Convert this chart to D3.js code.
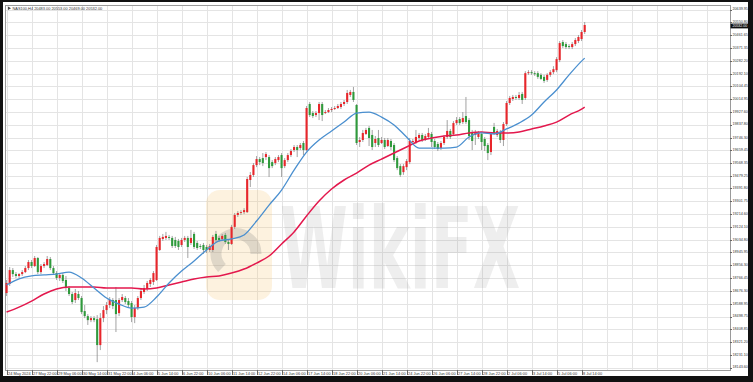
<!DOCTYPE html>
<html><head><meta charset="utf-8">
<script src="https://cdn.jsdelivr.net/npm/d3@7/dist/d3.min.js"></script>
<style>html,body{margin:0;padding:0;background:#fff}svg{display:block}</style>
</head><body><svg id="c" width="753" height="382"></svg>
<script>
const symbol = "NAS100,H4";
const timeLabels = ["24 May 2024","27 May 22:00","29 May 06:00","30 May 14:00","31 May 22:00","4 Jun 06:00","5 Jun 14:00","6 Jun 22:00","10 Jun 06:00","11 Jun 14:00","12 Jun 22:00","14 Jun 06:00","17 Jun 14:00","18 Jun 22:00","20 Jun 06:00","21 Jun 14:00","24 Jun 22:00","26 Jun 06:00","27 Jun 14:00","28 Jun 22:00","2 Jul 06:00","3 Jul 14:00","5 Jul 06:00","8 Jul 14:00"];
const priceLabels = ["20639.95","20550.80","20461.65","20371.35","20282.20","20192.10","20104.45","20014.95","19927.60","19837.80","19746.30","19659.45","19568.35","19479.25","19391.80","19301.75","19214.60","19124.10","19034.80","18945.95","18856.30","18766.45","18676.30","18588.95","18498.75","18408.85","18321.20","18231.10","18143.60"];

const open = [18663,18726,18823,18795,18782,18795,18809,18837,18879,18851,18907,18809,18851,18858,18900,18837,18802,18768,18789,18754,18698,18656,18614,18656,18628,18537,18502,18474,18488,18481,18300,18488,18544,18579,18614,18614,18523,18614,18628,18607,18593,18495,18558,18628,18670,18691,18726,18740,18754,18963,19040,19047,19054,19047,19033,19026,18998,19033,19047,19012,19075,19012,18991,18998,18984,18963,18963,19075,19047,19040,19068,19019,19005,19124,19207,19221,19227,19227,19451,19486,19555,19597,19604,19611,19611,19576,19569,19590,19625,19548,19590,19625,19660,19681,19674,19709,19660,19981,19918,19904,19918,19981,19918,19925,19939,19946,19953,19960,19981,19995,20044,20065,19974,19716,19730,19772,19814,19765,19709,19744,19709,19730,19688,19723,19695,19604,19548,19506,19541,19576,19716,19716,19744,19765,19737,19751,19772,19723,19702,19674,19709,19751,19793,19772,19848,19876,19855,19897,19869,19786,19765,19751,19772,19737,19695,19646,19821,19765,19786,19730,19841,19988,20016,20030,20023,20051,20023,20196,20203,20196,20196,20184,20170,20149,20184,20203,20217,20287,20413,20399,20385,20378,20399,20420,20434,20483];
const high = [18754,18844,18837,18809,18802,18823,18851,18893,18893,18921,18914,18865,18879,18921,18914,18851,18816,18802,18802,18782,18712,18670,18691,18677,18642,18579,18516,18502,18502,18509,18523,18572,18600,18635,18628,18705,18628,18656,18642,18628,18607,18579,18642,18691,18719,18747,18768,18816,18998,19061,19075,19089,19068,19061,19054,19040,19047,19061,19061,19103,19089,19026,19005,19012,18998,19005,19068,19096,19061,19075,19082,19033,19138,19221,19234,19241,19255,19472,19507,19569,19618,19611,19639,19646,19625,19590,19611,19625,19639,19604,19639,19667,19695,19695,19709,19723,19967,19995,19932,19932,19995,19995,19939,19953,19960,19967,19981,19995,20009,20079,20079,20100,19981,19751,19800,19814,19828,19800,19758,19800,19751,19744,19744,19737,19709,19618,19562,19562,19597,19744,19737,19800,19779,19779,19772,19814,19786,19737,19716,19723,19765,19869,19807,19862,19890,19890,19925,20030,19883,19800,19800,19793,19786,19751,19709,19786,19849,19807,19800,19855,20002,20037,20044,20044,20065,20065,20210,20217,20217,20210,20210,20196,20184,20196,20217,20245,20308,20420,20427,20413,20399,20413,20441,20462,20497,20553];
const low = [18642,18712,18775,18768,18768,18782,18802,18823,18837,18844,18795,18795,18837,18851,18823,18789,18754,18747,18733,18677,18642,18586,18593,18614,18516,18488,18440,18460,18460,18181,18265,18460,18516,18558,18551,18391,18502,18600,18586,18565,18460,18453,18544,18614,18656,18677,18705,18719,18747,18956,19026,19033,19033,18977,18977,18963,18984,19019,18907,18998,18970,18963,18970,18935,18942,18949,18949,19019,19019,19026,19005,18963,18998,19110,19193,19207,19213,19221,19402,19472,19541,19555,19548,19590,19472,19534,19555,19576,19472,19534,19576,19611,19646,19611,19660,19625,19653,19890,19883,19890,19869,19862,19911,19918,19925,19939,19946,19946,19967,19981,20030,19995,19695,19681,19716,19765,19688,19660,19681,19681,19702,19667,19681,19660,19576,19520,19473,19487,19520,19562,19695,19702,19730,19716,19723,19737,19681,19667,19653,19660,19695,19737,19737,19758,19835,19835,19841,19841,19730,19660,19695,19737,19660,19653,19590,19625,19765,19751,19709,19688,19828,19974,20002,20009,20009,19981,20009,20184,20184,20177,20156,20149,20128,20135,20170,20189,20203,20273,20371,20364,20364,20364,20385,20406,20420,20469];
const close = [18733,18823,18795,18782,18795,18809,18837,18879,18851,18907,18809,18851,18865,18900,18837,18802,18768,18789,18747,18698,18656,18600,18663,18628,18530,18502,18474,18488,18474,18300,18488,18544,18579,18614,18572,18516,18614,18635,18600,18579,18495,18558,18628,18677,18698,18733,18754,18802,18984,19047,19054,19061,19047,18991,18991,18984,19033,19047,18984,19047,18984,18977,18984,18963,18963,18991,19054,19033,19033,19061,19019,19005,19124,19207,19221,19227,19241,19458,19486,19555,19597,19576,19569,19632,19534,19548,19597,19611,19534,19590,19625,19653,19681,19660,19695,19660,19953,19904,19897,19918,19981,19904,19925,19939,19946,19953,19967,19981,19995,20058,20065,20009,19709,19730,19779,19800,19744,19681,19737,19695,19730,19681,19730,19681,19590,19534,19487,19548,19583,19723,19723,19751,19765,19730,19758,19779,19716,19681,19667,19709,19751,19793,19751,19848,19869,19848,19883,19855,19758,19723,19786,19779,19716,19688,19639,19772,19779,19793,19730,19841,19988,20023,20030,20023,20044,20009,20196,20203,20196,20189,20170,20156,20142,20184,20203,20224,20294,20406,20385,20378,20378,20399,20427,20448,20483,20532];

const maBars = [0,4,8,12,16,20,24,28,32,36,40,44,48,52,56,60,64,68,72,76,80,84,88,92,96,100,104,108,112,116,120,124,128,132,136,140,144,148,152,156,160,164,168,172,176,180,184,185];
const maFast = [18719,18761,18782,18789,18795,18809,18768,18698,18628,18586,18558,18565,18635,18733,18816,18886,18963,19026,19040,19068,19165,19276,19381,19520,19646,19730,19793,19855,19918,19925,19890,19835,19751,19674,19674,19674,19681,19751,19779,19772,19807,19848,19904,19995,20079,20184,20280,20301];
const maSlow = [18530,18565,18607,18656,18691,18705,18705,18705,18698,18698,18698,18691,18698,18719,18740,18761,18775,18782,18802,18830,18872,18921,19005,19089,19200,19304,19388,19451,19499,19555,19597,19639,19681,19723,19744,19758,19765,19779,19786,19779,19779,19786,19807,19828,19855,19904,19946,19960];

const W = 753, H = 382;
const plot = {l:5, t:5, r:730, b:370};
const svg = d3.select("#c");
const fontFam = "'Liberation Sans', Arial, sans-serif";

// outer frame
svg.append("rect").attr("x",0).attr("y",0).attr("width",W).attr("height",H).attr("fill","#111");
svg.append("rect").attr("x",3).attr("y",2).attr("width",745).attr("height",374).attr("fill","#fff");

const x = d3.scaleLinear().domain([-0.5, 231.5]).range([plot.l, plot.r]);
const priceVals = priceLabels.map(Number);
const y = d3.scaleLinear().domain([d3.min(priceVals), d3.max(priceVals)]).range([367.5, 9.5]);

// grid
const gGrid = svg.append("g");
const gridIdx = d3.range(0, 232, 8);
gGrid.selectAll("line.v").data(gridIdx).join("line")
  .attr("x1", d => Math.round(x(d))+0.5).attr("x2", d => Math.round(x(d))+0.5)
  .attr("y1", plot.t).attr("y2", plot.b)
  .attr("stroke","#e4e4e4").attr("stroke-width",1);
gGrid.selectAll("line.h").data(priceVals).join("line")
  .attr("x1", plot.l).attr("x2", plot.r)
  .attr("y1", d => Math.round(y(d))+0.5).attr("y2", d => Math.round(y(d))+0.5)
  .attr("stroke","#e4e4e4").attr("stroke-width",1);

// plot border
svg.append("rect").attr("x",plot.l+0.5).attr("y",plot.t+0.5)
  .attr("width",plot.r-plot.l).attr("height",plot.b-plot.t)
  .attr("fill","none").attr("stroke","#9a9a9a").attr("stroke-width",1);

// watermark (behind data)
const wm = svg.append("g");
wm.append("rect").attr("x",206).attr("y",190).attr("width",66).attr("height",110).attr("rx",14)
  .attr("fill","rgba(246,196,110,0.22)");
wm.append("path").attr("d","M222,268 a20,20 0 1,1 34,-14").attr("fill","none")
  .attr("stroke","rgba(120,120,120,0.22)").attr("stroke-width",11);
wm.append("text").attr("x",280).attr("y",288).text("WikiFX")
  .attr("font-family","'DejaVu Sans', sans-serif").attr("font-weight","bold")
  .attr("font-size",112).attr("textLength",240).attr("lengthAdjust","spacingAndGlyphs")
  .attr("fill","rgba(140,140,140,0.15)");

// candles
const bars = d3.range(open.length).map(i => ({i, o:open[i], h:high[i], l:low[i], c:close[i]}));
const upCol = "#e8262b", dnCol = "#2f9a3c";
const gC = svg.append("g");
gC.selectAll("line.w").data(bars).join("line")
  .attr("x1", d => x(d.i)).attr("x2", d => x(d.i))
  .attr("y1", d => y(d.h)).attr("y2", d => y(d.l))
  .attr("stroke","#8c8c8c").attr("stroke-width",0.8);
gC.selectAll("rect").data(bars).join("rect")
  .attr("x", d => x(d.i)-1.05).attr("width",2.1)
  .attr("y", d => y(Math.max(d.o,d.c)))
  .attr("height", d => Math.max(0.8, Math.abs(y(d.o)-y(d.c))))
  .attr("fill", d => d.c >= d.o ? upCol : dnCol);

// moving averages
const line = d3.line().x(d => x(d[0])).y(d => y(d[1])).curve(d3.curveMonotoneX);
svg.append("path").datum(maBars.map((b,k)=>[b,maSlow[k]])).attr("d",line)
  .attr("fill","none").attr("stroke","#e3184d").attr("stroke-width",1.5);
svg.append("path").datum(maBars.map((b,k)=>[b,maFast[k]])).attr("d",line)
  .attr("fill","none").attr("stroke","#4a8fcf").attr("stroke-width",1.3);

// price axis labels
const gY = svg.append("g");
gY.selectAll("line").data(priceVals).join("line")
  .attr("x1", plot.r).attr("x2", plot.r+2)
  .attr("y1", d => Math.round(y(d))+0.5).attr("y2", d => Math.round(y(d))+0.5)
  .attr("stroke","#666");
gY.selectAll("text").data(priceLabels).join("text")
  .attr("x", plot.r+2.5).attr("y", d => y(+d)+0.9).text(d => d)
  .attr("font-family",fontFam).attr("font-size",3.7).attr("fill","#333");

// current price box
const last = bars[bars.length-1];
const cy = y(last.c);
svg.append("rect").attr("x",plot.r+0.5).attr("y",cy-1.4).attr("width",18).attr("height",4.8).attr("fill","#111");
svg.append("text").attr("x",plot.r+2.5).attr("y",cy+2.3).text(last.c.toFixed(2))
  .attr("font-family",fontFam).attr("font-size",3.5).attr("fill","#fff");

// time axis labels
const gX = svg.append("g");
const tIdx = timeLabels.map((t,k)=>k*8);
gX.selectAll("line").data(tIdx).join("line")
  .attr("x1", d => Math.round(x(d))+0.5).attr("x2", d => Math.round(x(d))+0.5)
  .attr("y1", plot.b).attr("y2", plot.b+5).attr("stroke","#666");
gX.selectAll("text").data(timeLabels).join("text")
  .attr("x", (d,k) => x(k*8)+1.5).attr("y", plot.b+4.6).text(d => d)
  .attr("font-family",fontFam).attr("font-size",3.9).attr("fill","#333");

// header
svg.append("path").attr("d","M8,6.5 L11,8.2 L8,9.9 Z").attr("fill","#444");
svg.append("text").attr("x",12.5).attr("y",9.6)
  .text(`${symbol}  ${last.o.toFixed(2)} ${last.h.toFixed(2)} ${last.l.toFixed(2)} ${last.c.toFixed(2)}`)
  .attr("font-family",fontFam).attr("font-size",3.9).attr("fill","#333");
</script></body></html>
